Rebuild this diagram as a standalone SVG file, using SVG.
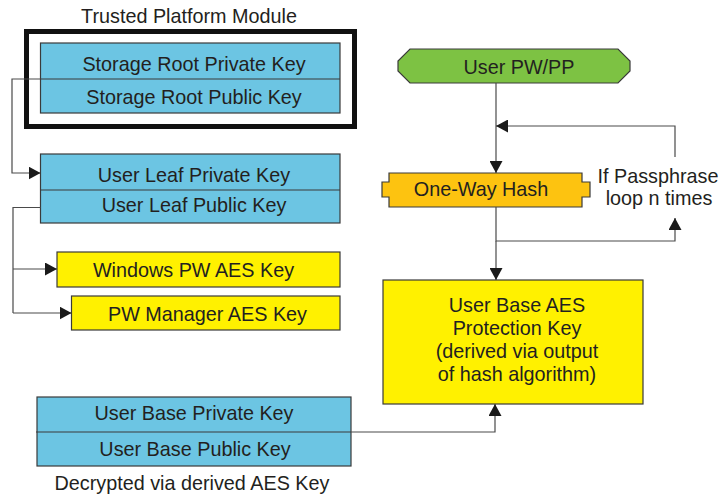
<svg xmlns="http://www.w3.org/2000/svg" width="722" height="497" viewBox="0 0 722 497">
  <defs>
    <marker id="arrow" viewBox="0 0 12 13" refX="12" refY="6.5" markerWidth="12" markerHeight="13" markerUnits="userSpaceOnUse" orient="auto">
      <path d="M0,0 L12,6.5 L0,13 Z" fill="#1a1a1a"/>
    </marker>
  </defs>
  <style>
    text { font-family: "Liberation Sans", Arial, sans-serif; font-size: 19.8px; fill: #231f20; text-anchor: middle; }
    .blue { fill: #6cc5e3; stroke: #3a3a3a; stroke-width: 1.2; }
    .yellow { fill: #fff100; stroke: #3a3a3a; stroke-width: 1.2; }
    .orange { fill: #fdc310; stroke: #3a3a3a; stroke-width: 1.2; }
    .green { fill: #7dc243; stroke: #3a3a3a; stroke-width: 1.2; }
    .div { stroke: #3a3a3a; stroke-width: 1.2; fill: none; }
    .conn { stroke: #4a4a4a; stroke-width: 1.2; fill: none; }
    .arr { marker-end: url(#arrow); }
  </style>
  <rect width="722" height="497" fill="#ffffff"/>

  <!-- TPM container -->
  <g id="tpm">
    <text x="189" y="23">Trusted Platform Module</text>
    <rect x="26.5" y="31.5" width="328" height="95" fill="none" stroke="#111" stroke-width="5"/>
  </g>

  <g id="storage-root">
    <rect class="blue" x="40.5" y="43" width="299.5" height="70"/>
    <line class="div" x1="40.5" y1="79" x2="340" y2="79"/>
    <text x="194" y="71">Storage Root Private Key</text>
    <text x="194" y="104">Storage Root Public Key</text>
  </g>

  <g id="user-leaf">
    <rect class="blue" x="40.5" y="154" width="299.5" height="69"/>
    <line class="div" x1="40.5" y1="190" x2="340" y2="190"/>
    <text x="194" y="182">User Leaf Private Key</text>
    <text x="194" y="212">User Leaf Public Key</text>
  </g>

  <g id="windows-pw">
    <rect class="yellow" x="57" y="252" width="283" height="35"/>
    <text x="193.5" y="277">Windows PW AES Key</text>
  </g>

  <g id="pw-manager">
    <rect class="yellow" x="71.5" y="296" width="268.5" height="34"/>
    <text x="207.5" y="321">PW Manager AES Key</text>
  </g>

  <g id="user-base">
    <rect class="blue" x="37" y="397" width="314" height="69"/>
    <line class="div" x1="36" y1="432" x2="351" y2="432"/>
    <text x="194" y="420">User Base Private Key</text>
    <text x="195" y="456">User Base Public Key</text>
    <text x="192" y="490">Decrypted via derived AES Key</text>
  </g>

  <g id="user-pw">
    <polygon class="green" points="410,49 618,49 630,61 630,71 618,83 410,83 398,71 398,61"/>
    <text x="519" y="74">User PW/PP</text>
  </g>

  <g id="hash">
    <polygon class="orange" points="389,173 582,173 582,182 590,182 590,197 582,197 582,207 389,207 389,197 382,197 382,182 389,182"/>
    <text x="481" y="196">One-Way Hash</text>
  </g>

  <g id="loop-note">
    <text x="658" y="183">If Passphrase</text>
    <text x="659" y="205">loop n times</text>
  </g>

  <g id="aes-key">
    <rect class="yellow" x="383" y="280" width="260" height="124"/>
    <text x="517" y="312">User Base AES</text>
    <text x="517" y="335">Protection Key</text>
    <text x="517" y="358">(derived via output</text>
    <text x="517" y="381">of hash algorithm)</text>
  </g>

  <g id="connectors">
    <path class="conn arr" d="M40.5,79 H12 V173 H40.5"/>
    <path class="conn" d="M40.5,207.5 H13 V313"/>
    <path class="conn arr" d="M13,269 H57"/>
    <path class="conn arr" d="M13,313 H71.5"/>
    <path class="conn arr" d="M496,83 V173"/>
    <path class="conn arr" d="M675,157 V126 H496"/>
    <path class="conn arr" d="M496,207 V241 H675 V218"/>
    <path class="conn arr" d="M496,241 V280"/>
    <path class="conn arr" d="M351,432 H495 V404"/>
  </g>
</svg>
